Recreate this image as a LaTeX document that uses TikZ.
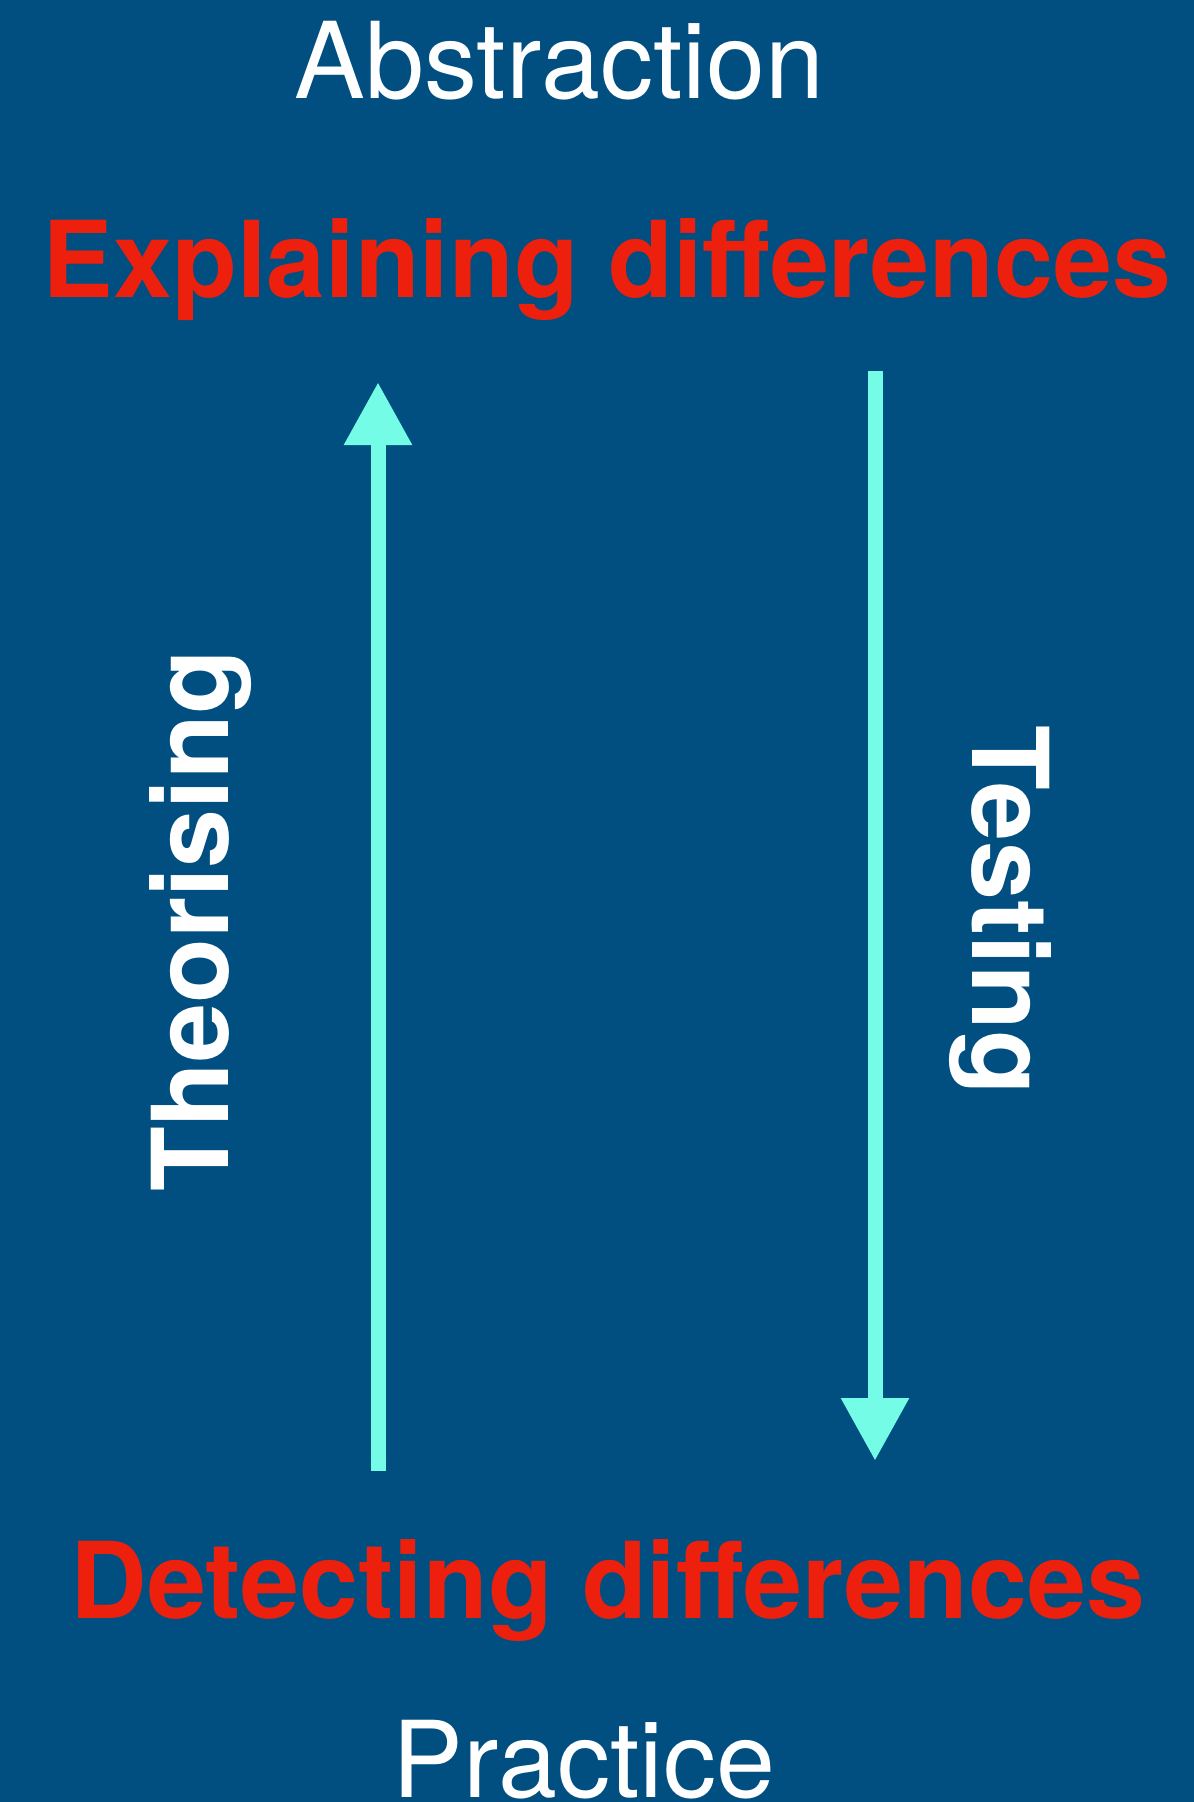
\documentclass[tikz,border=0pt]{standalone}
\usepackage{fontspec}
\setmainfont{TeX Gyre Heros}
\usetikzlibrary{arrows.meta}
\definecolor{bgblue}{RGB}{0,79,128}
\definecolor{keyred}{RGB}{237,32,14}
\definecolor{flowcyan}{RGB}{116,252,230}
\tikzset{
  % Plain level labels
  level/.style={text=white, inner sep=0pt, anchor=base,
    font=\fontsize{106}{110}\selectfont},
  % Red headings
  keyword/.style={text=keyred, inner sep=0pt, anchor=base,
    font=\fontsize{106}{110}\selectfont\bfseries},
  % Rotated process labels
  process/.style={text=white, inner sep=0pt, anchor=base,
    font=\fontsize{106}{110}\selectfont\bfseries},
  % Thick arrows
  flow/.style={draw=flowcyan, line width=15pt,
    -{Triangle[width=64pt, length=63pt]}},
}
\begin{document}
\begin{tikzpicture}[x=1pt, y=-1pt]
  \fill[bgblue] (0,0) rectangle (1194,1802);
  \useasboundingbox (0,0) rectangle (1194,1802);

  \node[level] (abstraction) at (559,98) {Abstraction};
  \node[keyword] (explaining) at (607,297) {Explaining differences};
  \node[keyword] (detecting) at (608,1618) {Detecting differences};
  \node[level] (practice) at (584,1797) {Practice};

  \node[process, rotate=90] (theorising) at (228,921) {Theorising};
  \node[process, rotate=-90] (testing) at (972,910) {Testing};

  % arrow ends
  \coordinate (theo-low) at (378,1471);
  \coordinate (theo-high) at (378,382);
  \coordinate (test-high) at (875,371);
  \coordinate (test-low) at (875,1461);

  \draw[flow] (theo-low) -- (theo-high);
  \draw[flow] (test-high) -- (test-low);
\end{tikzpicture}
\end{document}
